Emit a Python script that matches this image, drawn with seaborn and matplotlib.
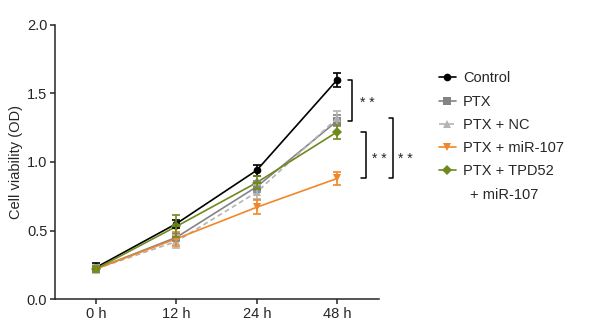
import numpy as np
import pandas as pd
import matplotlib.pyplot as plt
import seaborn as sns
from matplotlib.lines import Line2D

# values (mean OD +/- error)
times = ['0 h', '12 h', '24 h', '48 h']
groups = ['Control', 'PTX', 'PTX + NC', 'PTX + miR-107', 'PTX + TPD52']
control = [0.23, 0.55, 0.94, 1.60]
ptx = [0.22, 0.45, 0.82, 1.30]
ptx_nc = [0.22, 0.42, 0.78, 1.32]
ptx_mir = [0.22, 0.44, 0.67, 0.88]
ptx_tpd = [0.22, 0.53, 0.85, 1.22]
control_err = [0.03, 0.03, 0.04, 0.05]
ptx_err = [0.02, 0.03, 0.04, 0.04]
ptx_nc_err = [0.03, 0.05, 0.05, 0.05]
ptx_mir_err = [0.02, 0.05, 0.05, 0.05]
ptx_tpd_err = [0.02, 0.08, 0.05, 0.05]

means = [control, ptx, ptx_nc, ptx_mir, ptx_tpd]
errs = [control_err, ptx_err, ptx_nc_err, ptx_mir_err, ptx_tpd_err]
colors = ['#000000', '#848484', '#b4b4b4', '#f0872a', '#6f8a1c']
markers = ['o', 's', '^', 'v', 'D']

rows = []
for g, m, e in zip(groups, means, errs):
    for i, t in enumerate(times):
        rows.append({'group': g, 'x': i, 'od': m[i], 'err': e[i]})
df = pd.DataFrame(rows)

sns.set_style('ticks')
plt.rcParams['font.family'] = ['Liberation Sans', 'DejaVu Sans']

fig = plt.figure(figsize=(5.89, 3.28), dpi=100)
ax = fig.add_axes([0.0934, 0.0884, 0.5501, 0.8354])

pal = dict(zip(groups, colors))
mk = dict(zip(groups, markers))
dashes = {g: '' for g in groups}
dashes['PTX + NC'] = (3, 2)

sns.lineplot(data=df, x='x', y='od', hue='group', style='group', palette=pal,
             markers=mk, dashes=dashes, markersize=5.5, linewidth=1.2,
             markeredgewidth=0, ax=ax, legend=False)

for g in groups:
    sub = df[df['group'] == g]
    ax.errorbar(sub['x'], sub['od'], yerr=sub['err'], fmt='none',
                ecolor=pal[g], elinewidth=1.2, capsize=3, capthick=1.2)

ax.set_xlim(-0.51, 3.52)
ax.set_ylim(0, 2.0)
ax.set_xticks(range(len(times)))
ax.set_xticklabels(times)
ax.set_yticks([0, 0.5, 1.0, 1.5, 2.0])
ax.set_yticklabels(['0.0', '0.5', '1.0', '1.5', '2.0'])
ax.set_xlabel('')
ax.set_ylabel('Cell viability (OD)', fontsize=10.5)
ax.yaxis.set_label_coords(-0.10, 0.5)
ax.tick_params(labelsize=10.5, width=1.1, length=3.5, pad=2)
for s in ['left', 'bottom']:
    ax.spines[s].set_linewidth(1.1)
sns.despine(ax=ax)

# significance brackets
def bracket(x, y0, y1, tx, ty):
    ax.plot([x - 0.06, x, x, x - 0.06], [y0, y0, y1, y1], color='black',
            lw=1.1, clip_on=False)
    ax.text(tx, ty, '* *', fontsize=10, ha='center', va='center')

bracket(3.19, 1.60, 1.30, 3.37, 1.43)
bracket(3.36, 1.22, 0.88, 3.52, 1.02)
bracket(3.70, 1.32, 0.88, 3.85, 1.02)

# legend
handles = [Line2D([0], [0], color=c, marker=m, markersize=5.5, lw=1.2,
                  markeredgewidth=0, ls='--' if g == 'PTX + NC' else '-')
           for g, c, m in zip(groups, colors, markers)]
fig.legend(handles, groups, loc='upper left', bbox_to_anchor=(0.735, 0.80),
           frameon=False, fontsize=10.5, handlelength=1.2, handletextpad=0.45,
           labelspacing=0.63, borderaxespad=0)
fig.text(0.798, 0.405, '+ miR-107', fontsize=10.5, ha='left', va='center')

fig.savefig('out.png', dpi=100)
